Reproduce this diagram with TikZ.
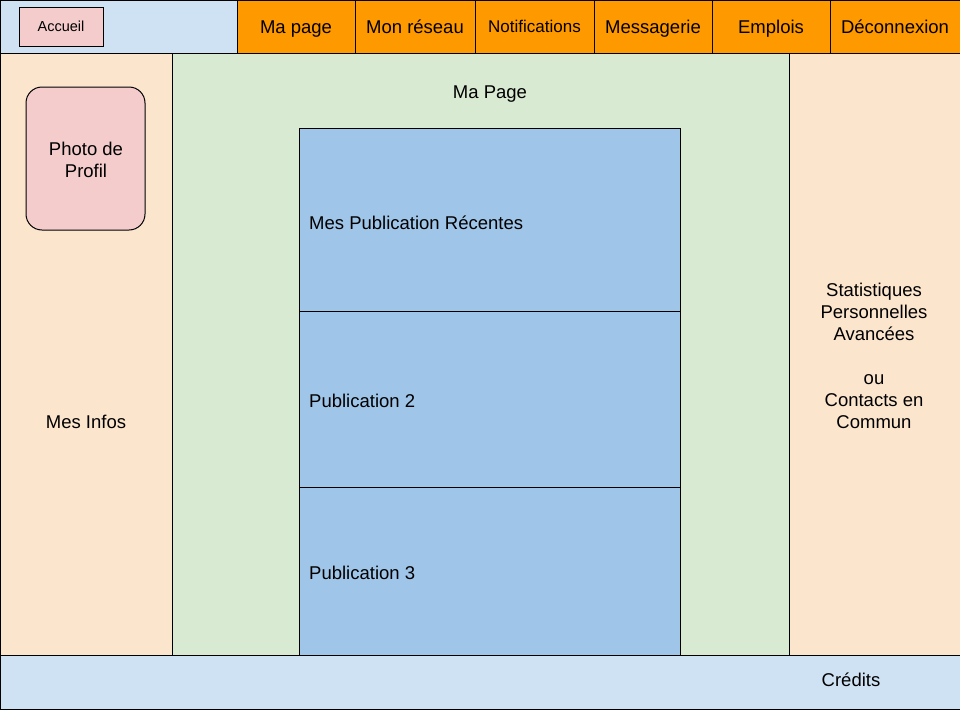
\documentclass[tikz,border=0pt]{standalone}
\usepackage{fontspec}
\setmainfont{Liberation Sans}
\definecolor{topblue}{HTML}{CFE2F3}
\definecolor{tabor}{HTML}{FF9900}
\definecolor{peach}{HTML}{FCE5CD}
\definecolor{pgreen}{HTML}{D9EAD3}
\definecolor{pubblue}{HTML}{9FC5E8}
\definecolor{pinkb}{HTML}{F4CCCC}
\begin{document}
\begin{tikzpicture}[x=1pt,y=-1pt,
  box/.style={draw=black,line width=1pt,anchor=north west,inner sep=0pt,outer sep=0pt,align=center,font=\fontsize{18.5}{22}\selectfont},
  tab/.style={box,fill=tabor,minimum height=53pt,text height=13.2pt,text depth=0pt},
  lbl/.style={inner sep=0pt,font=\fontsize{18.5}{22}\selectfont,align=center},
]
\useasboundingbox[fill=white] (0,0) rectangle (960,720);
% top bar
\node[box,fill=topblue,minimum width=237pt,minimum height=53pt] (topbar) at (0,0) {};
\node[box,fill=pinkb,minimum width=84pt,minimum height=39pt,font=\fontsize{14.5}{17}\selectfont,text height=10.4pt,text depth=0pt] (accueil) at (19,7) {Accueil};
\node[tab,minimum width=118pt] (t1) at (237,0) {Ma page};
\node[tab,minimum width=120pt] (t2) at (355,0) {Mon réseau};
\node[tab,minimum width=119pt,font=\fontsize{17}{20}\selectfont,text height=12.2pt] (t3) at (475,0) {Notifications};
\node[tab,minimum width=118pt] (t4) at (594,0) {Messagerie};
\node[tab,minimum width=118pt] (t5) at (712,0) {Emplois};
\node[tab,minimum width=130pt] (t6) at (830,0) {Déconnexion};
% panels
\node[box,fill=pgreen,minimum width=617pt,minimum height=602pt] (center) at (172,53) {};
\node[box,fill=peach,minimum width=172pt,minimum height=603pt] (left) at (0,53) {};
\node[box,fill=peach,minimum width=171pt,minimum height=602pt] (right) at (789,53) {};
\node[lbl] (mapage) at (490,94) {Ma Page};
% publications
\node[box,fill=pubblue,minimum width=381pt,minimum height=183pt] (pub1) at (299,128) {};
\node[box,fill=pubblue,minimum width=381pt,minimum height=176pt] (pub2) at (299,311) {};
\node[box,fill=pubblue,minimum width=381pt,minimum height=168pt] (pub3) at (299,487) {};
\node[lbl,anchor=west] (pub1t) at (309,223) {Mes Publication Récentes};
\node[lbl,anchor=west] (pub2t) at (309,401) {Publication 2};
\node[lbl,anchor=west] (pub3t) at (309,573) {Publication 3};
% left
\node[box,fill=pinkb,rounded corners=16pt,minimum width=119pt,minimum height=143pt] (photo) at (26,87) {};
\node[lbl] (photot) at (86,160) {Photo de\\Profil};
\node[lbl] (infos) at (86,422) {Mes Infos};
% right
\node[lbl] (stats) at (874,356) {Statistiques\\Personnelles\\Avancées\\[22pt]ou\\Contacts en\\Commun};
% footer
\node[box,fill=topblue,minimum width=960pt,minimum height=54pt] (footer) at (0,655) {};
\node[lbl] (credits) at (851,680) {Crédits};
\end{tikzpicture}
\end{document}
